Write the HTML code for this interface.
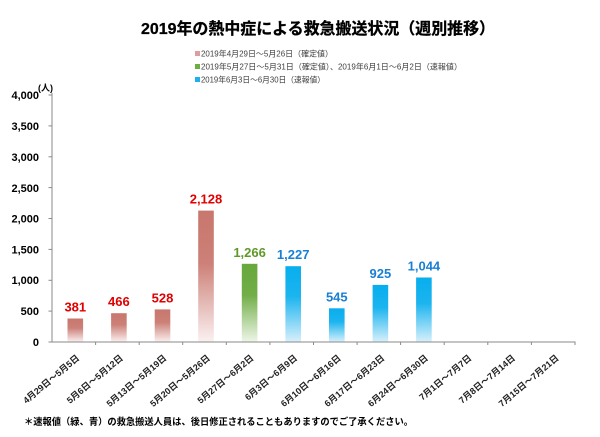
<!DOCTYPE html>
<html><head><meta charset="utf-8"><style>
html,body{margin:0;padding:0;background:#fff;}
svg{display:block;}
text{font-family:"Liberation Sans","Noto Sans CJK JP",sans-serif;}
</style></head><body>
<svg width="600" height="437" viewBox="0 0 600 437" xmlns="http://www.w3.org/2000/svg">
<defs>
<linearGradient id="gr" x1="0" y1="0" x2="0" y2="1">
<stop offset="0" stop-color="#c8776d"/><stop offset="0.4" stop-color="#cc8077"/><stop offset="1" stop-color="#fbf1f1"/>
</linearGradient>
<linearGradient id="gg" x1="0" y1="0" x2="0" y2="1">
<stop offset="0" stop-color="#68a83c"/><stop offset="0.4" stop-color="#72ae48"/><stop offset="1" stop-color="#eef6e8"/>
</linearGradient>
<linearGradient id="gb" x1="0" y1="0" x2="0" y2="1">
<stop offset="0" stop-color="#08aeee"/><stop offset="0.4" stop-color="#1cb4ef"/><stop offset="1" stop-color="#d8f0fb"/>
</linearGradient>
</defs>

<!-- Title -->
<text x="141" y="34" font-size="16" font-weight="bold" fill="#000" stroke="#000" stroke-width="0.3" textLength="354" lengthAdjust="spacingAndGlyphs">2019年の熱中症による救急搬送状況（週別推移）</text>

<!-- Legend -->
<rect x="195" y="51" width="5" height="5" fill="#e49b9b"/>
<text x="201" y="56.5" font-size="8" fill="#404040" textLength="132" lengthAdjust="spacingAndGlyphs">2019年4月29日～5月26日（確定値）</text>
<rect x="195" y="64" width="5" height="5" fill="#6cad44"/>
<text x="201" y="69.5" font-size="8" fill="#404040" textLength="261" lengthAdjust="spacingAndGlyphs">2019年5月27日～5月31日（確定値）、2019年6月1日～6月2日（速報値）</text>
<rect x="195" y="77" width="5" height="5" fill="#1eb0ea"/>
<text x="201" y="82.5" font-size="8" fill="#404040" textLength="124" lengthAdjust="spacingAndGlyphs">2019年6月3日～6月30日（速報値）</text>

<!-- Y axis -->
<g font-size="11" font-weight="bold" fill="#000" text-anchor="end">
<text x="39" y="99">4,000</text>
<text x="39" y="130">3,500</text>
<text x="39" y="161">3,000</text>
<text x="39" y="192">2,500</text>
<text x="39" y="222.5">2,000</text>
<text x="39" y="253.5">1,500</text>
<text x="39" y="284">1,000</text>
<text x="39" y="315">500</text>
<text x="39" y="346">0</text>
</g>
<text x="38" y="91" font-size="9" font-weight="bold" fill="#000">(人)</text>
<g stroke="#8a8a8a" stroke-width="1">
<line x1="52" y1="93" x2="52" y2="342"/>
<line x1="48.5" y1="95" x2="52" y2="95"/>
<line x1="48.5" y1="125.9" x2="52" y2="125.9"/>
<line x1="48.5" y1="156.8" x2="52" y2="156.8"/>
<line x1="48.5" y1="187.6" x2="52" y2="187.6"/>
<line x1="48.5" y1="218.5" x2="52" y2="218.5"/>
<line x1="48.5" y1="249.4" x2="52" y2="249.4"/>
<line x1="48.5" y1="280.3" x2="52" y2="280.3"/>
<line x1="48.5" y1="311.1" x2="52" y2="311.1"/>
<line x1="48.5" y1="342" x2="52" y2="342"/>
</g>

<!-- Bars -->
<rect x="67.5" y="318.5" width="15.6" height="23.5" fill="url(#gr)"/>
<rect x="111.1" y="313.2" width="15.6" height="28.8" fill="url(#gr)"/>
<rect x="154.7" y="309.4" width="15.6" height="32.6" fill="url(#gr)"/>
<rect x="198.2" y="210.6" width="15.6" height="131.4" fill="url(#gr)"/>
<rect x="241.8" y="263.8" width="15.6" height="78.2" fill="url(#gg)"/>
<rect x="285.4" y="266.2" width="15.6" height="75.8" fill="url(#gb)"/>
<rect x="329.0" y="308.3" width="15.6" height="33.7" fill="url(#gb)"/>
<rect x="372.6" y="284.9" width="15.6" height="57.1" fill="url(#gb)"/>
<rect x="416.1" y="277.5" width="15.6" height="64.5" fill="url(#gb)"/>

<!-- X axis -->
<g stroke="#8a8a8a" stroke-width="1">
<line x1="52" y1="342" x2="575.5" y2="342"/>
<line x1="95.6" y1="342" x2="95.6" y2="345"/>
<line x1="139.2" y1="342" x2="139.2" y2="345"/>
<line x1="182.7" y1="342" x2="182.7" y2="345"/>
<line x1="226.3" y1="342" x2="226.3" y2="345"/>
<line x1="269.9" y1="342" x2="269.9" y2="345"/>
<line x1="313.5" y1="342" x2="313.5" y2="345"/>
<line x1="357.1" y1="342" x2="357.1" y2="345"/>
<line x1="400.6" y1="342" x2="400.6" y2="345"/>
<line x1="444.2" y1="342" x2="444.2" y2="345"/>
<line x1="487.8" y1="342" x2="487.8" y2="345"/>
<line x1="531.4" y1="342" x2="531.4" y2="345"/>
<line x1="575" y1="342" x2="575" y2="345"/>
</g>

<!-- Data labels -->
<g font-size="13" font-weight="bold" text-anchor="middle">
<text x="75.3" y="311.5" fill="#e00000">381</text>
<text x="118.9" y="306.2" fill="#e00000">466</text>
<text x="162.5" y="302.4" fill="#e00000">528</text>
<text x="206" y="203.6" fill="#e00000">2,128</text>
<text x="249.6" y="256.8" fill="#5f9a28">1,266</text>
<text x="293.2" y="259.2" fill="#1a7fd4">1,227</text>
<text x="336.8" y="301.3" fill="#1a7fd4">545</text>
<text x="380.4" y="277.9" fill="#1a7fd4">925</text>
<text x="423.9" y="270.5" fill="#1a7fd4">1,044</text>
</g>

<!-- X labels -->
<g font-size="9" font-weight="bold" fill="#222" text-anchor="end">
<text transform="translate(80,359) rotate(-40)">4月29日～5月5日</text>
<text transform="translate(123.6,359) rotate(-40)">5月6日～5月12日</text>
<text transform="translate(167.2,359) rotate(-40)">5月13日～5月19日</text>
<text transform="translate(210.7,359) rotate(-40)">5月20日～5月26日</text>
<text transform="translate(254.3,359) rotate(-40)">5月27日～6月2日</text>
<text transform="translate(297.9,359) rotate(-40)">6月3日～6月9日</text>
<text transform="translate(341.5,359) rotate(-40)">6月10日～6月16日</text>
<text transform="translate(385.1,359) rotate(-40)">6月17日～6月23日</text>
<text transform="translate(428.6,359) rotate(-40)">6月24日～6月30日</text>
<text transform="translate(472.2,359) rotate(-40)">7月1日～7月7日</text>
<text transform="translate(515.8,359) rotate(-40)">7月8日～7月14日</text>
<text transform="translate(559.4,359) rotate(-40)">7月15日～7月21日</text>
</g>

<!-- Footnote -->
<text x="24" y="425" font-size="9.5" font-weight="bold" fill="#000" textLength="389" lengthAdjust="spacingAndGlyphs">＊速報値（緑、青）の救急搬送人員は、後日修正されることもありますのでご了承ください。</text>
</svg>
</body></html>
